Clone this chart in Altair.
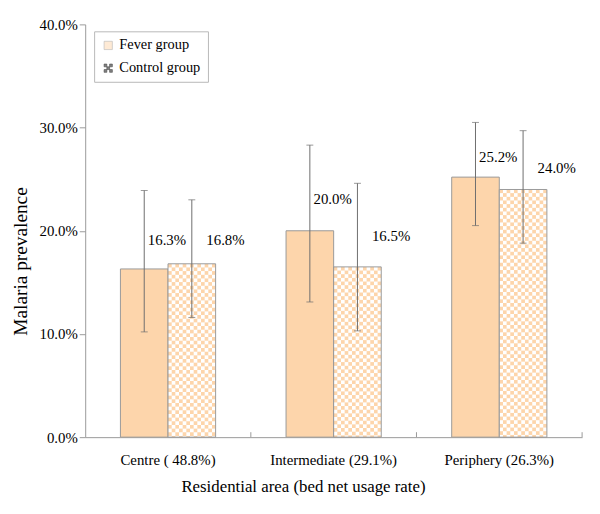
import urllib.parse
import altair as alt
import pandas as pd

areas = ["Centre ( 48.8%)", "Intermediate (29.1%)", "Periphery (26.3%)"]
groups = ["Fever group", "Control group"]
fever = [0.163, 0.200, 0.252]
control = [0.168, 0.165, 0.240]
fever_lo = [0.102, 0.131, 0.205]
fever_hi = [0.239, 0.283, 0.305]
control_lo = [0.116, 0.103, 0.188]
control_hi = [0.230, 0.246, 0.297]

ORANGE = "#FDD5AB"
EDGE = "#9A9A9A"
ERR = "#6E6E6E"
FONT = "Liberation Serif"

rows = []
for i, a in enumerate(areas):
    rows.append({"area": a, "group": groups[0], "value": fever[i], "lo": fever_lo[i], "hi": fever_hi[i]})
    rows.append({"area": a, "group": groups[1], "value": control[i], "lo": control_lo[i], "hi": control_hi[i]})
df = pd.DataFrame(rows)

svg = (
    '<svg xmlns="http://www.w3.org/2000/svg" width="100%" height="100%">'
    '<defs><pattern id="p" width="7.4" height="7.4" patternUnits="userSpaceOnUse">'
    '<rect width="7.4" height="7.4" fill="#ffffff"/>'
    f'<rect width="3.7" height="3.7" fill="{ORANGE}"/>'
    f'<rect x="3.7" y="3.7" width="3.7" height="3.7" fill="{ORANGE}"/>'
    '</pattern></defs><rect width="100%" height="100%" fill="url(#p)"/></svg>'
)
checker_url = "data:image/svg+xml;charset=utf-8," + urllib.parse.quote(svg)
df["img"] = checker_url

# 3x3 checker (corners + centre black) for the legend symbol
cells = []
for r in range(3):
    for c in range(3):
        if (r + c) % 2 == 0:
            cells.append(f"M{-1 + c * 2 / 3:.3f},{-1 + r * 2 / 3:.3f}h0.667v0.667h-0.667z")
checker_path = "".join(cells)

x_enc = alt.X("area:N", sort=areas, title="Residential area (bed net usage rate)",
              scale=alt.Scale(domain=areas, paddingInner=0, paddingOuter=0),
              axis=alt.Axis(labelAngle=0, ticks=False, labelPadding=16, titlePadding=11,
                            labelFontSize=15, titleFontSize=17, labelColor="#000", titleColor="#000",
                            domainColor=EDGE, titleFontWeight="normal", titleX=220,
                            labelFont=FONT, titleFont=FONT))
xo = alt.XOffset("group:N", sort=groups, scale=alt.Scale(domain=groups, paddingOuter=0.74, paddingInner=0))
y_scale = alt.Scale(domain=[0, 0.4], nice=False)
y_enc = alt.Y("value:Q", scale=y_scale, title="Malaria prevalence",
              axis=alt.Axis(format=".1%", values=[0, 0.1, 0.2, 0.3, 0.4], grid=False, tickSize=6,
                            tickColor=EDGE, domainColor=EDGE, labelPadding=2, titlePadding=9,
                            labelFontSize=15, titleFontSize=19.5, labelColor="#000", titleColor="#000",
                            titleFontWeight="normal", titleY=239, labelFont=FONT, titleFont=FONT))

base = alt.Chart(df)

fever_bars = base.transform_filter(alt.datum.group == groups[0]).mark_bar(
    fill=ORANGE, stroke=EDGE, strokeWidth=1
).encode(x=x_enc, xOffset=xo, y=y_enc)

ctrl_img = base.transform_filter(alt.datum.group == groups[1]).mark_image(aspect=False).encode(
    x=x_enc, xOffset=xo, y=y_enc, y2=alt.datum(0), url="img:N"
)

ctrl_outline = base.transform_filter(alt.datum.group == groups[1]).mark_bar(
    fillOpacity=0, stroke=EDGE, strokeWidth=1
).encode(x=x_enc, xOffset=xo, y=y_enc)

err_rule = base.mark_rule(color=ERR, strokeWidth=1).encode(
    x=x_enc, xOffset=xo, y=alt.Y("lo:Q", scale=y_scale), y2="hi:Q"
)
cap_lo = base.mark_tick(color=ERR, size=7, thickness=1, orient="horizontal").encode(
    x=x_enc, xOffset=xo, y=alt.Y("lo:Q", scale=y_scale)
)
cap_hi = base.mark_tick(color=ERR, size=7, thickness=1, orient="horizontal").encode(
    x=x_enc, xOffset=xo, y=alt.Y("hi:Q", scale=y_scale)
)

def labels(g, dx):
    return base.transform_filter(alt.datum.group == g).transform_calculate(
        ly="datum.value + 0.37 * (datum.hi - datum.value)"
    ).mark_text(font=FONT, fontSize=15, color="#000", dx=dx, baseline="middle", align="center").encode(
        x=x_enc, xOffset=xo, y=alt.Y("ly:Q", scale=y_scale), text=alt.Text("value:Q", format=".1%")
    )

tick_rules = base.transform_filter(alt.datum.group == groups[0]).mark_rule(color=EDGE, strokeWidth=1).encode(
    x=alt.X("area:N", sort=areas, bandPosition=1), y=alt.value(412), y2=alt.value(417)
)

leg = dict(title=None, orient="none", legendX=9, legendY=7,
           strokeColor="#B8B8B8", padding=7, rowPadding=8,
           labelFont=FONT, labelFontSize=14.5, labelColor="#000",
           symbolSize=70, symbolStrokeWidth=0.6, labelOffset=4)

legend_layer = base.transform_filter("false").mark_point(filled=True, size=70, strokeWidth=0.6).encode(
    x=x_enc, y=y_enc,
    shape=alt.Shape("group:N", scale=alt.Scale(domain=groups, range=["square", checker_path]),
                    legend=alt.Legend(**leg)),
    fill=alt.Fill("group:N", scale=alt.Scale(domain=groups, range=[ORANGE, "#000000"]),
                  legend=alt.Legend(**leg)),
    stroke=alt.Stroke("group:N", scale=alt.Scale(domain=groups, range=[EDGE, "#000000"]),
                      legend=alt.Legend(**leg)),
)

chart = alt.layer(
    fever_bars, ctrl_img, ctrl_outline, err_rule, cap_lo, cap_hi,
    labels(groups[0], 23), labels(groups[1], 34), tick_rules, legend_layer
).properties(
    width=502, height=417,
    autosize=alt.AutoSizeParams(type="none"),
    padding={"left": 78, "top": 14, "right": 10, "bottom": 67},
).configure_view(stroke=None).configure_axis(
    labelFont=FONT, titleFont=FONT
).configure_text(font=FONT).configure_legend(labelFont=FONT, titleFont=FONT)

chart.save("out.html", embed_options={"renderer": "svg", "actions": False})
